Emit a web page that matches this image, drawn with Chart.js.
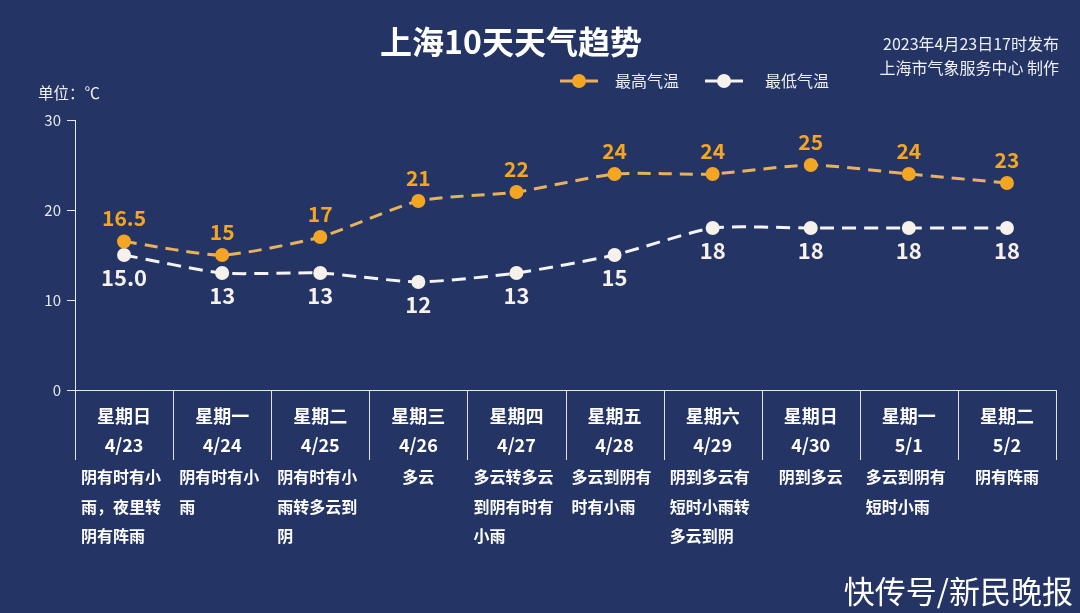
<!DOCTYPE html>
<html><head><meta charset="utf-8">
<script src="https://cdn.jsdelivr.net/npm/chart.js@4.4.1/dist/chart.umd.min.js"></script>
<style>
html,body{margin:0;padding:0;background:#243464;}
#wrap{width:1080px;height:613px;position:relative;}
</style>
</head><body><div id="wrap"><canvas id="c"></canvas></div>
<script>
const weekdays = ['星期日','星期一','星期二','星期三','星期四','星期五','星期六','星期日','星期一','星期二'];
const dates = ['4/23','4/24','4/25','4/26','4/27','4/28','4/29','4/30','5/1','5/2'];
const weather = ['阴有时有小雨，夜里转阴有阵雨','阴有时有小雨','阴有时有小雨转多云到阴','多云','多云转多云到阴有时有小雨','多云到阴有时有小雨','阴到多云有短时小雨转多云到阴','阴到多云','多云到阴有短时小雨','阴有阵雨'];
const highTemps = [16.5, 15, 17, 21, 22, 24, 24, 25, 24, 23];
const lowTemps = [15, 13, 13, 12, 13, 15, 18, 18, 18, 18];
const highLabels = ['16.5','15','17','21','22','24','24','25','24','23'];
const lowLabels = ['15.0','13','13','12','13','15','18','18','18','18'];
const yTicks = [0, 10, 20, 30];
const titleText = '上海10天天气趋势';
const noteLines = ['2023年4月23日17时发布','上海市气象服务中心 制作'];
const unitText = '单位：℃';
const sourceText = '快传号/新民晚报';
const seriesNames = ['最高气温','最低气温'];

const FONT = '"Noto Sans CJK SC", "Noto Sans", sans-serif';
const ORANGE = '#f4a623';
const ORANGE_LINE = '#e8b15c';
const WHITE = '#f6f1ea';
const WHITE_LINE = '#f4f4f6';
const TEXT = '#ffffff';

const overlay = {
  id: 'overlay',
  afterDatasetsDraw(chart) {
    const ctx = chart.ctx;
    ctx.save();
    ctx.textAlign = 'center';
    ctx.textBaseline = 'middle';
    const m0 = chart.getDatasetMeta(0), m1 = chart.getDatasetMeta(1);
    ctx.font = 'bold 21px ' + FONT;
    ctx.fillStyle = ORANGE;
    m0.data.forEach((p, i) => ctx.fillText(highLabels[i], p.x, p.y - 23));
    ctx.font = 'bold 22px ' + FONT;
    ctx.fillStyle = WHITE;
    m1.data.forEach((p, i) => ctx.fillText(lowLabels[i], p.x, p.y + 23));
    ctx.restore();
  },
  afterDraw(chart) {
    const ctx = chart.ctx;
    const xs = chart.scales.x;
    const area = chart.chartArea;
    ctx.save();
    // column dividers
    ctx.strokeStyle = '#dfe3ec';
    ctx.lineWidth = 1;
    const n = dates.length;
    const step = xs.getPixelForValue(1) - xs.getPixelForValue(0);
    for (let i = 0; i <= n; i++) {
      const x = Math.round(xs.getPixelForValue(0) - step / 2 + i * step) + 0.5;
      ctx.beginPath();
      ctx.moveTo(x, area.bottom);
      ctx.lineTo(x, area.bottom + 70);
      ctx.stroke();
    }
    // weather descriptions
    ctx.font = 'bold 16px ' + FONT;
    ctx.fillStyle = TEXT;
    ctx.textBaseline = 'middle';
    ctx.textAlign = 'left';
    weather.forEach((w, i) => {
      const chars = Array.from(w);
      const lines = [];
      for (let k = 0; k < chars.length; k += 5) lines.push(chars.slice(k, k + 5).join(''));
      const bw = Math.max(...lines.map(l => ctx.measureText(l).width));
      const left = xs.getPixelForValue(i) - bw / 2 - (lines.length > 1 ? 3 : 0);
      lines.forEach((l, j) => ctx.fillText(l, left, area.bottom + 87 + j * 29.5));
    });
    // title
    ctx.textAlign = 'center';
    ctx.font = 'bold 32px ' + FONT;
    ctx.fillText(titleText, 511, 42);
    // note
    ctx.textAlign = 'right';
    ctx.font = '16px ' + FONT;
    ctx.fillStyle = '#eef0f5';
    ctx.fillText(noteLines[0], 1059, 44);
    ctx.fillText(noteLines[1], 1059, 68);
    // unit
    ctx.textAlign = 'left';
    ctx.font = '15.5px ' + FONT;
    ctx.fillText(unitText, 38, 93);
    // legend
    const legend = [
      {x: 560, line: ORANGE_LINE, pt: ORANGE, tx: 615, label: seriesNames[0]},
      {x: 705, line: WHITE_LINE, pt: WHITE, tx: 765, label: seriesNames[1]}
    ];
    legend.forEach(l => {
      ctx.strokeStyle = l.line;
      ctx.lineWidth = 3;
      ctx.beginPath();
      ctx.moveTo(l.x, 81);
      ctx.lineTo(l.x + 38, 81);
      ctx.stroke();
      ctx.fillStyle = l.pt;
      ctx.beginPath();
      ctx.arc(l.x + 19, 81, 7, 0, Math.PI * 2);
      ctx.fill();
      ctx.fillStyle = '#eef0f5';
      ctx.font = '16px ' + FONT;
      ctx.fillText(l.label, l.tx, 81);
    });
    // source watermark
    ctx.fillStyle = '#ffffff';
    ctx.font = '31px ' + FONT;
    ctx.textAlign = 'right';
    ctx.fillText(sourceText, 1073, 591);
    ctx.restore();
  }
};

new Chart(document.getElementById('c'), {
  type: 'line',
  data: {
    labels: dates,
    datasets: [
      {
        label: seriesNames[0],
        data: highTemps,
        borderColor: ORANGE_LINE,
        backgroundColor: ORANGE,
        pointBackgroundColor: ORANGE,
        pointBorderColor: ORANGE,
        pointRadius: 7,
        pointBorderWidth: 0,
        borderWidth: 3,
        borderDash: [13, 8],
        tension: 0.2,
        fill: false
      },
      {
        label: seriesNames[1],
        data: lowTemps,
        borderColor: WHITE_LINE,
        backgroundColor: WHITE,
        pointBackgroundColor: WHITE,
        pointBorderColor: WHITE,
        pointRadius: 7,
        pointBorderWidth: 0,
        borderWidth: 3,
        borderDash: [14, 8],
        tension: 0.2,
        fill: false
      }
    ]
  },
  options: {
    responsive: true,
    maintainAspectRatio: false,
    animation: false,
    layout: { padding: { left: 0, right: 24, top: 120, bottom: 0 } },
    plugins: { legend: { display: false }, tooltip: { enabled: false }, title: { display: false } },
    scales: {
      x: {
        offset: true,
        grid: { display: false, drawTicks: false },
        border: { display: true, color: '#e6e9f0', width: 1 },
        ticks: {
          color: TEXT,
          font: { family: FONT, size: 18, weight: 'bold', lineHeight: 1.6 },
          padding: 12,
          maxRotation: 0,
          autoSkip: false,
          callback: (v, i) => [weekdays[i], dates[i]]
        },
        afterFit: s => { s.height = 223; }
      },
      y: {
        min: 0,
        max: 30,
        afterBuildTicks: s => { s.ticks = yTicks.map(v => ({ value: v })); },
        grid: { drawOnChartArea: false, drawTicks: true, tickLength: 8, color: '#e6e9f0' },
        border: { display: true, color: '#e6e9f0', width: 1 },
        ticks: { color: '#e6e9f0', font: { family: FONT, size: 15 }, padding: 6 },
        afterFit: s => { s.width = 75; }
      }
    }
  },
  plugins: [overlay]
});
</script>
</body></html>
